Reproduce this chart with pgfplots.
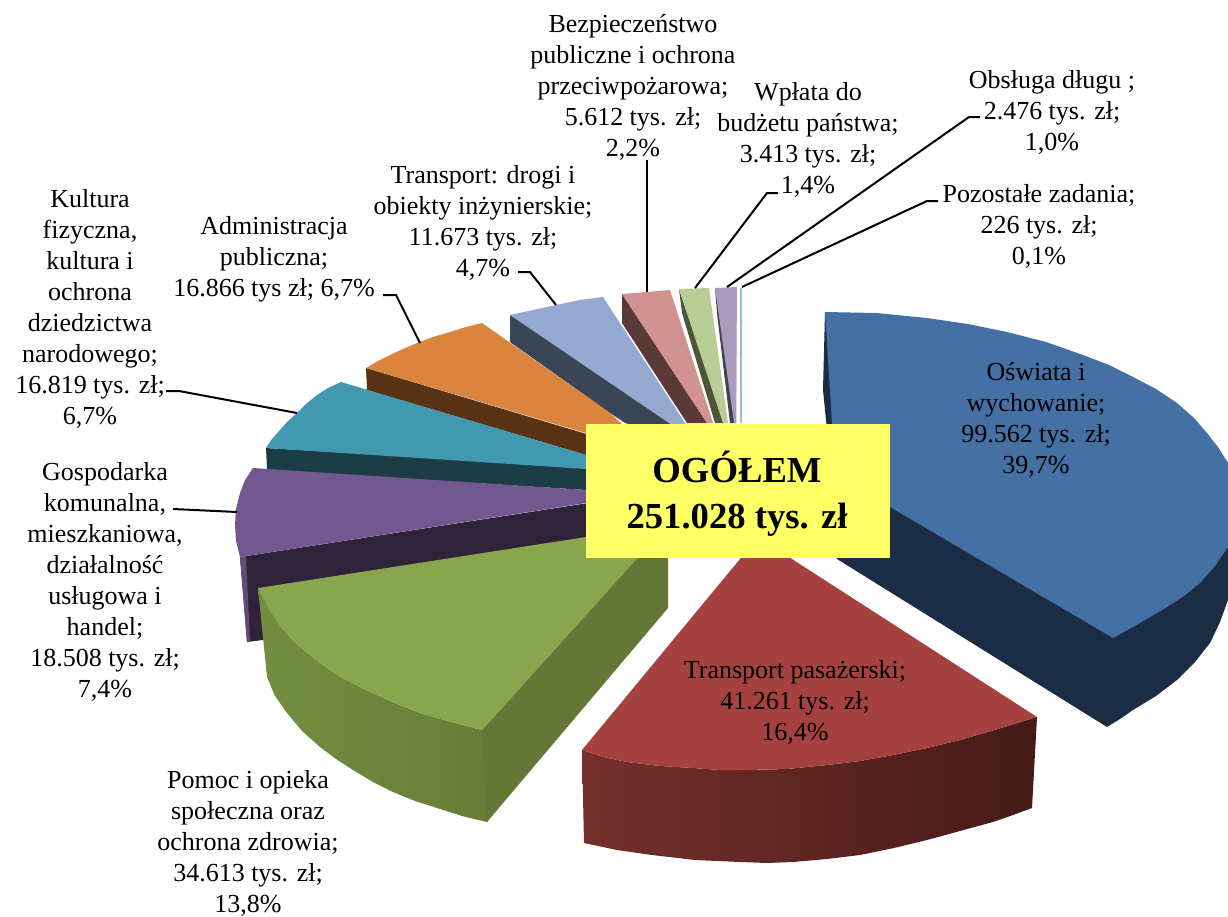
\documentclass[border=0pt]{standalone}
\usepackage{fontspec}
\setmainfont{Liberation Serif}
\usepackage{pgfplots}
\pgfplotsset{compat=1.18}

\definecolor{bluetop}{HTML}{4470A4}
\definecolor{blueside}{HTML}{1B2D44}
\definecolor{redtop}{HTML}{A5423F}
\definecolor{redL}{HTML}{75302C}
\definecolor{redR}{HTML}{441A17}
\definecolor{greentop}{HTML}{89A54E}
\definecolor{greenL}{HTML}{738E40}
\definecolor{greenR}{HTML}{667C37}
\definecolor{greenwall}{HTML}{647737}
\definecolor{purptop}{HTML}{71588F}
\definecolor{purpside}{HTML}{2F2339}
\definecolor{tealtop}{HTML}{4198AF}
\definecolor{tealside}{HTML}{1C3C46}
\definecolor{oratop}{HTML}{DB843D}
\definecolor{oraside}{HTML}{5A3314}
\definecolor{ltbtop}{HTML}{93A9CF}
\definecolor{ltbside}{HTML}{3A4556}
\definecolor{pinktop}{HTML}{D19392}
\definecolor{pinkside}{HTML}{5A3938}
\definecolor{lgtop}{HTML}{B9CD96}
\definecolor{lgside}{HTML}{4D5638}
\definecolor{lptop}{HTML}{A99BBD}
\definecolor{lpside}{HTML}{463F54}
\definecolor{boxy}{HTML}{FFFF66}

\newcommand{\lab}[3]{\node[align=center,inner sep=0pt,font=\fontsize{19.5}{23.25}\selectfont] at (axis cs:#1,#2) {#3};}

\begin{document}
\begin{tikzpicture}
\begin{axis}[
    scale only axis,
    width=921pt, height=687.75pt,
    xmin=0, xmax=1228, ymin=0, ymax=917,
    y dir=reverse,
    hide axis,
    every axis plot/.append style={no markers},
]
% small slices at the back
\addplot[fill=lpside,draw=none] coordinates {(715,288)(717,313)(730,423)(736,423)(736,288)};
\addplot[fill=lptop,draw=none] coordinates {(715,288)(737,287)(736,423)(734,423)};
\addplot[fill=cyan!40!gray!70,draw=none] coordinates {(740,288)(741.5,288)(741.5,423)(740,423)};

\addplot[fill=lgside,draw=none] coordinates {(679,289)(682,313)(715,423)(725,423)};
\addplot[fill=lgtop,draw=none] coordinates {(679,289)(709,288)(728,423)(723,423)};

\addplot[fill=pinkside,draw=none] coordinates {(622,294)(622,323)(687,423)(707,423)};
\addplot[fill=pinktop,draw=none] coordinates {(622,294)(647,292)(670,290)(713,423)(707,423)};

\addplot[fill=ltbside,draw=none] coordinates {(510,315)(510,342)(610,413)(625,423)(700,445)(610,380)};
\addplot[fill=ltbtop,draw=none] coordinates {(510,315)(533,310)(556,305)(580,300)(603,297)(685,423)(700,445)(669,423)(610,383)};

\addplot[fill=oraside,draw=none] coordinates {(366,368)(367,390)(586,455)(640,470)(640,450)};
\addplot[fill=oratop,draw=none] coordinates {(482,323)(466,327)(450,332)(433,337)(417,343)(403,349)(390,355)(378,361)(366,368)(586,433)(650,450)(610,413)};

\addplot[fill=tealside,draw=none] coordinates {(266,448)(267,470)(586,490)(640,495)(640,470)};
\addplot[fill=tealtop,draw=none] coordinates {(341,382)(328,388)(317,395)(306,404)(297,413)(288,421)(280,430)(272,439)(266,448)(586,469)(640,475)(586,455)};

\addplot[fill=purpside,draw=none] coordinates {(240,557)(247,642)(263,640)(640,570)(640,495)};
\addplot[fill=purptop!85!black,draw=none] coordinates {(240,557)(247,642)(250,642)(246,556)};
\addplot[fill=purptop,draw=none] coordinates {(253,468)(245,480)(240,493)(236,509)(235,525)(236,541)(240,557)(586,503)(645,494)(586,490)};

% green slice
\addplot[left color=greenL,right color=greenR,draw=none] coordinates {(258,588)(268,608)(280,627)(299,646)(320,663)(339,676)(360,687)(390,701)(420,713)(451,722)(482,730)(495,725)(500,805)(487,822)(462,816)(437,808)(415,801)(393,792)(373,782)(353,770)(336,759)(320,747)(302,731)(287,713)(275,696)(267,677)};
\addplot[fill=greenwall,draw=none] coordinates {(482,730)(668,524)(668,608)(487,822)};
\addplot[fill=greentop,draw=none] coordinates {(258,588)(268,608)(280,627)(299,646)(320,663)(339,676)(360,687)(390,701)(420,713)(451,722)(482,730)(633,563)(668,524)(586,537)};

% red slice
\addplot[left color=redL,right color=redR,draw=none] coordinates {(582,750)(584,843)(617,850)(652,855)(695,860)(740,862)(767,863)(793,862)(827,859)(860,855)(894,848)(927,840)(960,831)(993,822)(1013,815)(1032,808)(1037,717)(998,729)(960,740)(927,748)(893,755)(860,761)(827,765)(787,769)(747,770)(720,770)(693,768)(660,766)(627,762)(604,757)};
\addplot[fill=redtop,draw=none] coordinates {(582,750)(604,757)(627,762)(660,766)(693,768)(720,770)(747,770)(787,769)(827,765)(860,761)(893,755)(927,748)(960,740)(998,729)(1037,717)(792,559)(758,537)(740,559)};

% blue slice
\addplot[fill=blueside,draw=none] coordinates {(825,312)(823,390)(827,430)(837,559)(1107,727)(1120,719)(1133,710)(1156,696)(1177,680)(1195,662)(1210,643)(1220,622)(1228,600)(1228,463)(1113,600)};
\addplot[fill=bluetop,draw=none] coordinates {(825,312)(876,313)(927,318)(968,324)(1007,332)(1046,342)(1083,355)(1109,365)(1133,377)(1156,389)(1177,403)(1194,418)(1207,433)(1218,447)(1228,463)(1228,547)(1215,566)(1200,583)(1184,596)(1167,607)(1140,623)(1113,638)(890,507)(835,475)(832,423)};

% leader lines
\addplot[black,line width=1.5pt] coordinates {(173,509)(237,512)};
\addplot[black,line width=1.5pt] coordinates {(166,391)(179,391)(297,413)};
\addplot[black,line width=1.5pt] coordinates {(383,295)(396,295)(420,343)};
\addplot[black,line width=1.5pt] coordinates {(518,272)(530,272)(556,305)};
\addplot[black,line width=1.5pt] coordinates {(647,160)(647,292)};
\addplot[black,line width=1.5pt] coordinates {(778,193)(767,193)(695,288)};
\addplot[black,line width=1.5pt] coordinates {(980,117)(969,117)(727,287)};
\addplot[black,line width=1.5pt] coordinates {(938,201)(927,201)(742,287)};

% central box
\addplot[fill=boxy,draw=none] coordinates {(586,424)(890,424)(890,558)(586,558)};
\node[align=center,inner sep=0pt,font=\fontsize{27.5}{34.5}\selectfont\bfseries] at (axis cs:737,494) {OGÓŁEM\\251.028 tys. zł};

\lab{633}{87}{Bezpieczeństwo\\publiczne i ochrona\\przeciwpożarowa;\\5.612 tys. zł;\\2,2\%}
\lab{808}{140}{Wpłata do\\budżetu państwa;\\3.413 tys. zł;\\1,4\%}
\lab{1052}{112}{Obsługa długu ;\\2.476 tys. zł;\\1,0\%}
\lab{1039}{226}{Pozostałe zadania;\\226 tys. zł;\\0,1\%}
\lab{483}{223}{Transport: drogi i\\obiekty inżynierskie;\\11.673 tys. zł;\\4,7\%}
\lab{274}{259}{Administracja\\publiczna;\\16.866 tys zł; 6,7\%}
\lab{90}{309}{Kultura\\fizyczna,\\kultura i\\ochrona\\dziedzictwa\\narodowego;\\16.819 tys. zł;\\6,7\%}
\lab{105}{582}{Gospodarka\\komunalna,\\mieszkaniowa,\\działalność\\usługowa i\\handel;\\18.508 tys. zł;\\7,4\%}
\lab{248}{843}{Pomoc i opieka\\społeczna oraz\\ochrona zdrowia;\\34.613 tys. zł;\\13,8\%}
\lab{1036}{420}{Oświata i\\wychowanie;\\99.562 tys. zł;\\39,7\%}
\lab{795}{702}{Transport pasażerski;\\41.261 tys. zł;\\16,4\%}
\end{axis}
\pgfresetboundingbox
\useasboundingbox (current axis.south west) rectangle (current axis.north east);
\end{tikzpicture}
\end{document}
